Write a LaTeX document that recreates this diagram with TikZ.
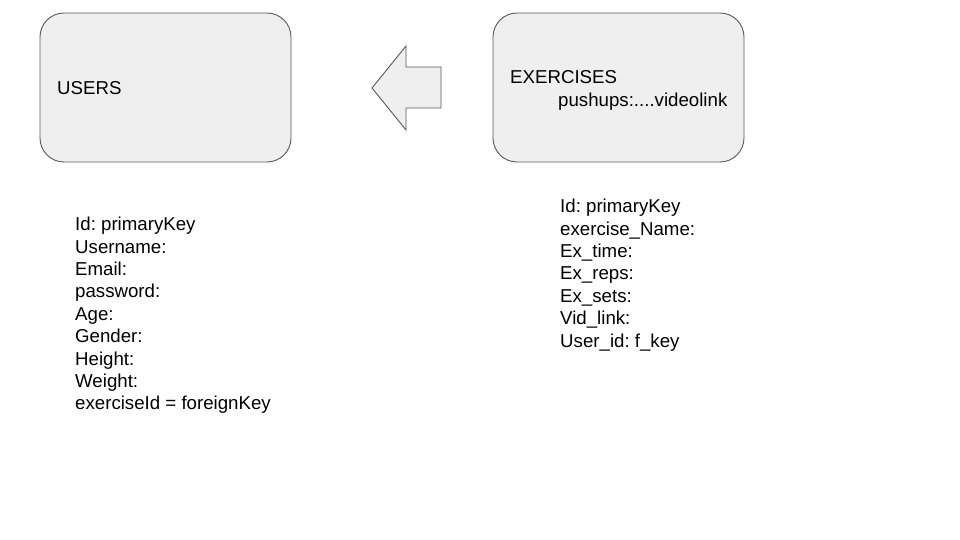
\documentclass[tikz,border=0pt]{standalone}
\usepackage{fontspec}
\setmainfont{Liberation Sans}
\frenchspacing
\begin{document}
\begin{tikzpicture}[x=1pt,y=-1pt,
  entbox/.style={draw=boxline,fill=boxfill,line width=0.9pt,rounded corners=24pt},
  lbl/.style={anchor=base west,inner sep=0pt,font=\fontsize{18.67}{22.4}\selectfont\frenchspacing,text=black}]
\definecolor{boxline}{HTML}{595959}
\definecolor{boxfill}{HTML}{EFEFEF}
\useasboundingbox[fill=white] (0,0) rectangle (960,540);
% boxes
\draw[entbox] (40,13) rectangle (291,162);
\draw[entbox] (493,13) rectangle (744,162);
% arrow
\draw[draw=boxline,fill=boxfill,line width=0.9pt]
  (372,88) -- (406,46) -- (406,67) -- (441,67) -- (441,108) -- (406,108) -- (406,130) -- cycle;
% box titles
\node[lbl] (usersT) at (57,94.7) {USERS};
\node[lbl] (exT) at (510,83.7) {EXERCISES};
\node[lbl] (exSub) at (558,106.1) {pushups:....videolink};
% users fields
\foreach \t [count=\i from 0] in {Id: primaryKey,Username:,Email:,password:,Age:,Gender:,Height:,Weight:,exerciseId = foreignKey}
  \node[lbl] (uf\i) at (75,230.7+22.4*\i) {\t};
% exercises fields
\foreach \t [count=\i from 0] in {Id: primaryKey,exercise\_Name:,Ex\_time:,Ex\_reps:,Ex\_sets:,Vid\_link:,User\_id: f\_key}
  \node[lbl] (ef\i) at (560,212.7+22.4*\i) {\t};
\end{tikzpicture}
\end{document}
